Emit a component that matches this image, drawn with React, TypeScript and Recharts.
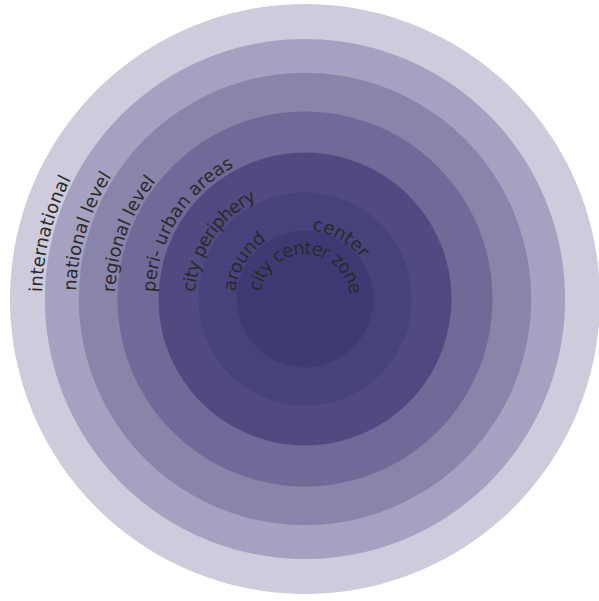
import { PieChart, Pie, Cell } from "recharts";

// rings from outside in; reach = outer edge in % of the outermost radius
const ringNames = [
	"international",
	"national level",
	"regional level",
	"peri- urban areas",
	"city periphery",
	"around center",
	"city center zone",
];
const ringReach = [100, 88.5, 77, 63.9, 50, 36.5, 23.5];
const ringColors = [
	"#cecbdd",
	"#a6a1c0",
	"#8984a9",
	"#716a98",
	"#514a81",
	"#47427b",
	"#3f3a73",
];

// where each label sits: start angle (deg), baseline radius, letter spacing
const labelArcs = [
	{ ring: 0, text: "international", start: 178.5, r: 263, ls: 0.25 },
	{ ring: 1, text: "national level", start: 178, r: 229, ls: 0 },
	{ ring: 2, text: "regional level", start: 178, r: 190, ls: -0.1 },
	{ ring: 3, text: "peri- urban areas", start: 177.5, r: 150, ls: 0 },
	{ ring: 4, text: "city periphery", start: 176.5, r: 110, ls: -0.7 },
	{ ring: 5, text: "around", start: 174, r: 70, ls: -0.3 },
	{ ring: 5, text: "center", start: 84, r: 69, ls: 0 },
	{ ring: 6, text: "city center zone", start: 171, r: 45, ls: -1 },
];

const OUTER_R = 295;
const CX = 305;
const CY = 299;

const arcPath = (cx: number, cy: number, r: number, startDeg: number, span: number) => {
	const a0 = (startDeg * Math.PI) / 180;
	const a1 = ((startDeg - span) * Math.PI) / 180;
	const x0 = cx + r * Math.cos(a0);
	const y0 = cy - r * Math.sin(a0);
	const x1 = cx + r * Math.cos(a1);
	const y1 = cy - r * Math.sin(a1);
	return `M ${x0} ${y0} A ${r} ${r} 0 ${span > 180 ? 1 : 0} 1 ${x1} ${y1}`;
};

const ringLabel = (ring: number) => (props: any) => {
	const { cx, cy } = props;
	return (
		<g>
			{labelArcs
				.filter((l) => l.ring === ring)
				.map((l, i) => {
					const id = `arc-${ring}-${i}`;
					return (
						<g key={id}>
							<path id={id} d={arcPath(cx, cy, l.r, l.start, 200)} fill="none" stroke="none" />
							<text
								fill="#2a2a2a"
								fontSize={18}
								fontFamily="DejaVu Sans"
								letterSpacing={l.ls}
							>
								<textPath href={`#${id}`}>{l.text}</textPath>
							</text>
						</g>
					);
				})}
		</g>
	);
};

export default function App() {
	// inner rings first so outer text sits above their neighbours
	const order = ringNames.map((_, i) => i).reverse();
	return (
		<div style={{ position: "absolute", left: 0, top: 0 }}>
			<PieChart width={599} height={601} margin={{ top: 0, right: 0, bottom: 0, left: 0 }}>
				{order.map((i) => (
					<Pie
						key={ringNames[i]}
						data={[{ name: ringNames[i], value: 1 }]}
						dataKey="value"
						cx={CX}
						cy={CY}
						startAngle={90}
						endAngle={-270}
						innerRadius={
							i < ringReach.length - 1 ? (OUTER_R * ringReach[i + 1]) / 100 - 1 : 0
						}
						outerRadius={(OUTER_R * ringReach[i]) / 100}
						stroke="none"
						isAnimationActive={false}
						label={ringLabel(i)}
						labelLine={false}
					>
						<Cell fill={ringColors[i]} />
					</Pie>
				))}
			</PieChart>
		</div>
	);
}
